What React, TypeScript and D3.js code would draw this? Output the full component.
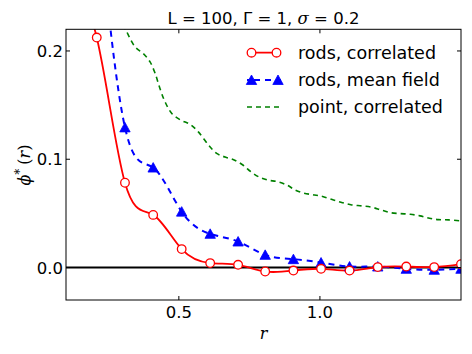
import React from "react";
import * as d3 from "d3";

// r positions of the rod samples (first one sits above the plot)
const rodR = [0.11, 0.209, 0.309, 0.409, 0.51, 0.611, 0.71, 0.806, 0.906, 1.004, 1.105, 1.205, 1.306, 1.405, 1.5];
const rodsCorrelated = [0.26, 0.2124, 0.0783, 0.0486, 0.017, 0.0041, 0.0025, -0.0037, -0.0028, -0.0012, -0.0028, 0.0004, 0.0009, 0.0004, 0.0031];
const rodsMeanField = [null, 0.34, 0.1294, 0.0923, 0.0516, 0.0311, 0.024, 0.0117, 0.0077, 0.0046, 0.0009, 0.0009, -0.0012, -0.0021, -0.0012];

const pointR = [0.29, 0.313, 0.345, 0.374, 0.398, 0.416, 0.433, 0.451, 0.475, 0.507, 0.54, 0.569, 0.605, 0.634, 0.664, 0.696, 0.727, 0.755, 0.782, 0.815, 0.849, 0.883, 0.912, 0.944, 0.981, 1.012, 1.048, 1.08, 1.113, 1.149, 1.184, 1.216, 1.249, 1.284, 1.32, 1.355, 1.388, 1.42, 1.456, 1.5];
const pointCorrelated = [0.232, 0.219, 0.2037, 0.1976, 0.1899, 0.1792, 0.1653, 0.153, 0.1423, 0.1361, 0.1322, 0.1253, 0.1131, 0.1054, 0.102, 0.0993, 0.0947, 0.0885, 0.0839, 0.0808, 0.0793, 0.0762, 0.0716, 0.0686, 0.067, 0.0654, 0.0624, 0.0599, 0.0578, 0.0569, 0.0557, 0.0532, 0.0507, 0.0498, 0.0492, 0.0477, 0.0455, 0.0442, 0.044, 0.043];

const xTicks = [0.5, 1.0];
const yTicks = [0.0, 0.1, 0.2];
const legendLabels = ["rods, correlated", "rods, mean field", "point, correlated"];

const W = 472, H = 354;
const left = 66, right = 461, top = 29.3, bottom = 300;
const font = "DejaVu Sans, sans-serif";

export default function App() {
  const x = d3.scaleLinear().domain([0.1, 1.5]).range([left, right]);
  const y = d3.scaleLinear().domain([-0.03, 0.22]).range([bottom, top]);

  const corr = rodR.map((r, i) => ({ r, v: rodsCorrelated[i] }));
  const mf = rodR
    .map((r, i) => ({ r, v: rodsMeanField[i] }))
    .filter((d) => d.v !== null) as { r: number; v: number }[];
  const pts = pointR.map((r, i) => ({ r, v: pointCorrelated[i] }));

  const spline = d3
    .line<{ r: number; v: number }>()
    .x((d) => x(d.r))
    .y((d) => y(d.v))
    .curve(d3.curveNatural);
  const smooth = d3
    .line<{ r: number; v: number }>()
    .x((d) => x(d.r))
    .y((d) => y(d.v))
    .curve(d3.curveCatmullRom);

  const inside = (d: { v: number }) => d.v <= 0.22 && d.v >= -0.03;
  const tri = (cx: number, cy: number) => `M${cx},${cy - 5}L${cx + 5.2},${cy + 4.5}L${cx - 5.2},${cy + 4.5}Z`;

  const legX1 = 247, legX2 = 281, legTextX = 298;
  const legY = [52.7, 80, 107];

  return (
    <>
      <style>{"body{margin:0}"}</style>
      <svg width={W} height={H} style={{ display: "block", background: "#fff" }}>
        <defs>
          <clipPath id="plot">
            <rect x={left} y={top} width={right - left} height={bottom - top} />
          </clipPath>
        </defs>

        {/* zero line */}
        <line x1={left} x2={right} y1={y(0)} y2={y(0)} stroke="#000" strokeWidth={2} />

        <g clipPath="url(#plot)">
          <path d={smooth(pts) ?? ""} fill="none" stroke="#008000" strokeWidth={1.6} strokeDasharray="5,4" />
          <path d={spline(mf) ?? ""} fill="none" stroke="#0000ff" strokeWidth={2} strokeDasharray="6,5" />
          <path d={spline(corr) ?? ""} fill="none" stroke="#ff0000" strokeWidth={1.8} />
          {mf.filter(inside).map((d, i) => (
            <path key={i} d={tri(x(d.r), y(d.v))} fill="#0000ff" stroke="#0000ff" strokeWidth={0.8} />
          ))}
          {corr.filter(inside).map((d, i) => (
            <circle key={i} cx={x(d.r)} cy={y(d.v)} r={4.3} fill="#fff" stroke="#ff0000" strokeWidth={1.3} />
          ))}
        </g>

        {/* frame */}
        <rect x={left} y={top} width={right - left} height={bottom - top} fill="none" stroke="#000" strokeWidth={1} />

        {/* ticks */}
        {xTicks.map((t) => (
          <g key={t}>
            <line x1={x(t)} x2={x(t)} y1={bottom} y2={bottom - 4} stroke="#000" />
            <line x1={x(t)} x2={x(t)} y1={top} y2={top + 4} stroke="#000" />
            <text x={x(t)} y={317.5} textAnchor="middle" fontFamily={font} fontSize={16.5}>
              {t.toFixed(1)}
            </text>
          </g>
        ))}
        {yTicks.map((t) => (
          <g key={t}>
            <line x1={left} x2={left + 4} y1={y(t)} y2={y(t)} stroke="#000" />
            <line x1={right} x2={right - 4} y1={y(t)} y2={y(t)} stroke="#000" />
            <text x={63} y={y(t) + 6} textAnchor="end" fontFamily={font} fontSize={16.5}>
              {t.toFixed(1)}
            </text>
          </g>
        ))}

        {/* title */}
        <text x={(left + right) / 2} y={24} textAnchor="middle" fontFamily={font} fontSize={16.5}>
          <tspan>L = 100, Γ = 1, </tspan>
          <tspan fontStyle="italic" fontFamily="DejaVu Serif, serif">σ</tspan>
          <tspan> = 0.2</tspan>
        </text>

        {/* axis labels */}
        <text x={(left + right) / 2} y={339} textAnchor="middle" fontFamily="DejaVu Serif, serif" fontStyle="italic" fontSize={16}>
          r
        </text>
        <text transform="translate(30,165) rotate(-90)" textAnchor="middle" fontFamily="DejaVu Serif, serif" fontSize={16}>
          <tspan fontStyle="italic">ϕ</tspan>
          <tspan fontSize={12} dy={-6}>*</tspan>
          <tspan dy={6} dx={4}>(</tspan>
          <tspan fontStyle="italic">r</tspan>
          <tspan>)</tspan>
        </text>

        {/* legend */}
        <line x1={legX1} x2={legX2} y1={legY[0]} y2={legY[0]} stroke="#ff0000" strokeWidth={1.8} />
        {[251.5, 276.5].map((cx) => (
          <circle key={cx} cx={cx} cy={legY[0]} r={4.3} fill="#fff" stroke="#ff0000" strokeWidth={1.3} />
        ))}
        <line x1={legX1} x2={legX2} y1={legY[1]} y2={legY[1]} stroke="#0000ff" strokeWidth={2} strokeDasharray="6,5" strokeDashoffset={-7} />
        {[251.5, 278].map((cx) => (
          <path key={cx} d={tri(cx, legY[1])} fill="#0000ff" stroke="#0000ff" strokeWidth={0.8} />
        ))}
        <line x1={legX1} x2={legX2} y1={legY[2]} y2={legY[2]} stroke="#008000" strokeWidth={1.6} strokeDasharray="5,4" />
        {legendLabels.map((l, i) => (
          <text key={l} x={legTextX} y={legY[i] + 6} fontFamily={font} fontSize={17.5}>
            {l}
          </text>
        ))}
      </svg>
    </>
  );
}
